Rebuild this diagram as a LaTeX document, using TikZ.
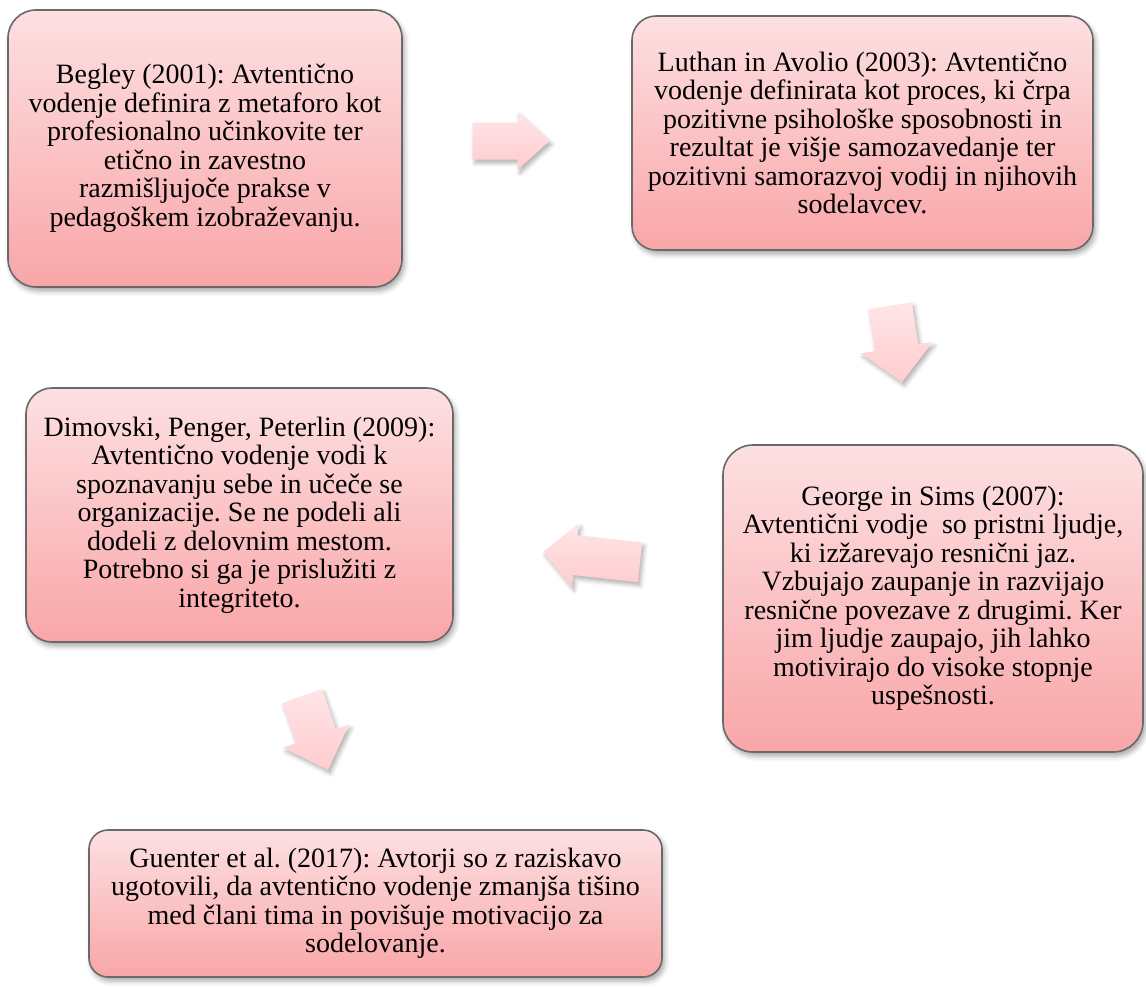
\documentclass[tikz,border=0pt]{standalone}
\usepackage{fontspec}
\setmainfont{Liberation Serif}
\usetikzlibrary{shadows.blur}
\frenchspacing

\definecolor{boxtop}{RGB}{253,224,226}
\definecolor{boxbottom}{RGB}{249,166,168}
\definecolor{boxline}{RGB}{105,105,105}
\definecolor{arrowtop}{RGB}{255,229,231}
\definecolor{arrowbottom}{RGB}{255,204,207}

\tikzset{
  stage/.style={draw=boxline, line width=0.8pt,
    top color=boxtop, bottom color=boxbottom,
    align=center, inner sep=0pt,
    font=\fontsize{14pt}{14.25pt}\selectfont,
    blur shadow={shadow xshift=1.2pt, shadow yshift=-2pt,
      shadow blur radius=2.5pt, shadow opacity=35}},
  flowarrow/.style={top color=arrowtop, bottom color=arrowbottom, draw=none,
    blur shadow={shadow xshift=1.2pt, shadow yshift=-1.8pt,
      shadow blur radius=2pt, shadow opacity=30}},
}

% block arrow: #1 centre, #2 angle, #3 length, #4 shaft half-width,
% #5 head half-width, #6 head length
\newcommand{\blockarrow}[6]{%
  \shade[flowarrow, shift={#1}, rotate=#2]
    (-#3/2,-#4) -- (#3/2-#6,-#4) -- (#3/2-#6,-#5) -- (#3/2,0)
    -- (#3/2-#6,#5) -- (#3/2-#6,#4) -- (-#3/2,#4) -- cycle;}

\begin{document}
\begin{tikzpicture}[x=0.5pt, y=-0.5pt]
  \useasboundingbox (0,0) rectangle (1146,986);

  \node[stage, minimum width=197pt, minimum height=138.5pt, rounded corners=14pt]
    (begley) at (205,148.5)
    {Begley (2001): Avtentično\\
     vodenje definira z metaforo kot\\
     profesionalno učinkovite ter\\
     etično in zavestno\\
     razmišljujoče prakse v\\
     pedagoškem izobraževanju.};

  \node[stage, minimum width=230.5pt, minimum height=117pt, rounded corners=12pt]
    (luthan) at (862.5,133)
    {Luthan in Avolio (2003): Avtentično\\
     vodenje definirata kot proces, ki črpa\\
     pozitivne psihološke sposobnosti in\\
     rezultat je višje samozavedanje ter\\
     pozitivni samorazvoj vodij in njihovih\\
     sodelavcev.};

  \node[stage, minimum width=210pt, minimum height=153.5pt, rounded corners=15pt]
    (george) at (933,598.5)
    {George in Sims (2007):\\
     Avtentični vodje~ so pristni ljudje,\\
     ki izžarevajo resnični jaz.\\
     Vzbujajo zaupanje in razvijajo\\
     resnične povezave z drugimi. Ker\\
     jim ljudje zaupajo, jih lahko\\
     motivirajo do visoke stopnje\\
     uspešnosti.};

  \node[stage, minimum width=213.5pt, minimum height=127pt, rounded corners=13pt]
    (dimovski) at (239.5,515)
    {Dimovski, Penger, Peterlin (2009):\\
     Avtentično vodenje vodi k\\
     spoznavanju sebe in učeče se\\
     organizacije. Se ne podeli ali\\
     dodeli z delovnim mestom.\\
     Potrebno si ga je prislužiti z\\
     integriteto.};

  \node[stage, minimum width=286.5pt, minimum height=73.5pt, rounded corners=9.5pt]
    (guenter) at (375.5,903.5)
    {Guenter et al. (2017): Avtorji so z raziskavo\\
     ugotovili, da avtentično vodenje zmanjša tišino\\
     med člani tima in povišuje motivacijo za\\
     sodelovanje.};

  % arrows of the cycle
  \blockarrow{(511,141)}{0}{77}{18.5}{29}{32}
  \blockarrow{(896,344)}{-81.1}{77.4}{22}{36.4}{35}
  \blockarrow{(591.5,557)}{173.8}{97.6}{20}{32}{32.6}
  \blockarrow{(315,733)}{-70.6}{78.4}{21.2}{35}{35.9}
\end{tikzpicture}
\end{document}
